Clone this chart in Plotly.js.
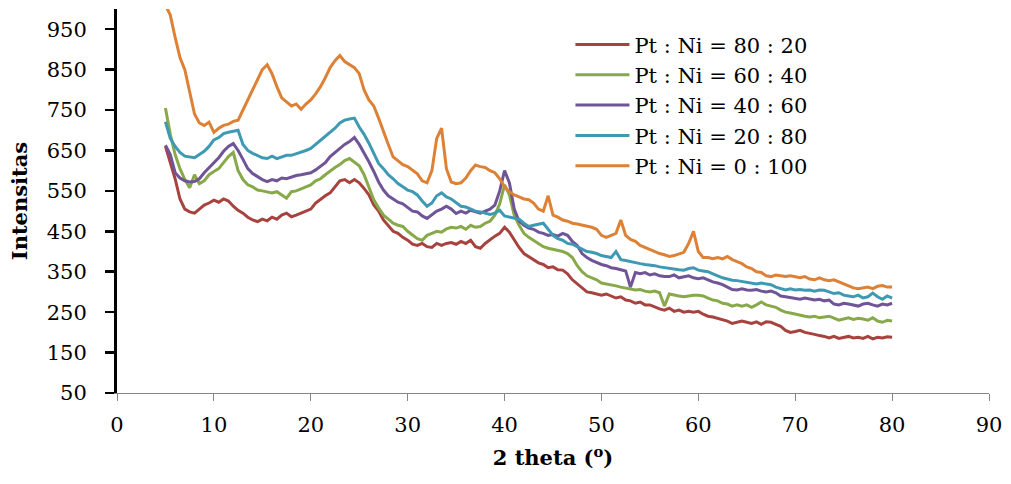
<!DOCTYPE html>
<html><head><meta charset="utf-8">
<script src="https://cdn.plot.ly/plotly-3.0.1.min.js"></script>
<style>html,body{margin:0;padding:0;background:#fff}#chart{width:1011px;height:484px}</style>
</head><body><div id="chart"></div>
<script>
// 2-theta sampling grid (degrees)
const twoTheta = [
5,5.5,6,6.5,7,7.5,8,8.5,9,9.5,
10,10.5,11,11.5,12,12.5,13,13.5,14,14.5,
15,15.5,16,16.5,17,17.5,18,18.5,19,19.5,
20,20.5,21,21.5,22,22.5,23,23.5,24,24.5,
25,25.5,26,26.5,27,27.5,28,28.5,29,29.5,
30,30.5,31,31.5,32,32.5,33,33.5,34,34.5,
35,35.5,36,36.5,37,37.5,38,38.5,39,39.5,
40,40.5,41,41.5,42,42.5,43,43.5,44,44.5,
45,45.5,46,46.5,47,47.5,48,48.5,49,49.5,
50,50.5,51,51.5,52,52.5,53,53.5,54,54.5,
55,55.5,56,56.5,57,57.5,58,58.5,59,59.5,
60,60.5,61,61.5,62,62.5,63,63.5,64,64.5,
65,65.5,66,66.5,67,67.5,68,68.5,69,69.5,
70,70.5,71,71.5,72,72.5,73,73.5,74,74.5,
75,75.5,76,76.5,77,77.5,78,78.5,79,79.5,
80];

const int80_20 = [
660,620,580,530,505,498,495,505,515,520,
527,522,530,525,512,502,495,485,478,474,
480,476,485,480,490,495,486,490,495,500,
505,520,530,538,545,560,575,578,570,578,
570,556,540,515,500,478,465,450,445,435,
428,418,415,420,412,410,420,415,420,422,
418,425,420,428,412,408,420,430,438,445,
460,448,428,410,395,388,380,372,368,360,
362,355,354,345,330,320,310,300,298,295,
292,295,290,285,288,280,278,272,275,268,
268,262,258,255,260,252,255,250,252,250,
252,245,240,238,235,232,228,222,225,228,
225,222,226,220,226,225,220,215,205,200,
202,205,200,198,195,192,190,186,190,185,
188,190,186,188,185,190,184,188,186,189,
188];

const int60_40 = [
755,690,640,605,578,558,590,568,575,590,
598,605,620,635,645,600,578,565,560,552,
550,548,545,548,540,532,548,550,555,560,
565,575,580,590,600,608,615,625,630,620,
612,590,560,528,508,490,480,470,465,462,
450,440,432,428,440,445,450,448,456,460,
458,462,455,465,460,462,470,475,490,518,
565,540,490,465,445,435,428,420,412,408,
405,402,400,395,385,365,350,340,335,330,
322,320,318,315,312,310,308,305,306,302,
300,302,298,265,295,292,290,288,290,292,
292,290,285,280,278,272,270,265,268,265,
268,262,268,275,268,265,262,255,250,248,
245,242,240,238,240,236,238,240,235,230,
233,236,232,235,233,230,236,228,225,230,
228];

const int40_60 = [
663,640,595,582,575,572,573,580,595,608,
620,632,648,660,667,650,628,605,593,585,
578,573,578,575,582,580,585,588,590,592,
595,602,610,620,635,645,655,665,672,682,
665,645,622,598,572,552,538,530,522,518,
510,500,498,488,482,492,500,505,512,505,
494,500,495,502,498,495,500,505,515,550,
600,570,505,475,465,458,455,448,445,440,
442,438,445,440,425,415,395,385,378,372,
368,365,360,358,355,352,312,348,345,348,
342,345,340,338,338,342,335,338,340,335,
333,335,330,325,322,318,312,306,305,308,
305,304,306,302,300,302,298,290,288,286,
285,282,285,282,280,282,278,280,270,268,
272,270,268,265,270,272,268,265,270,268,
272];

const int20_80 = [
721,680,660,645,636,634,632,640,648,660,
676,682,692,695,698,700,665,650,643,638,
632,630,636,630,634,638,638,642,645,650,
655,665,675,685,695,705,718,725,728,730,
708,690,668,642,618,605,590,580,568,560,
552,548,540,525,512,520,538,545,535,530,
520,512,510,505,500,498,495,492,495,502,
488,485,482,480,470,462,465,468,470,455,
440,432,428,420,418,412,405,400,398,395,
390,388,385,400,380,378,375,372,370,368,
367,365,362,360,358,356,355,354,358,360,
354,352,350,345,340,335,332,329,328,326,
325,322,320,322,320,318,312,308,305,308,
305,306,304,305,302,305,304,300,296,298,
292,290,288,292,285,288,297,288,282,290,
285];

const int0_100 = [
1010,985,930,880,850,795,740,718,712,720,
695,705,712,715,722,725,750,775,800,828,
850,862,840,808,780,770,760,765,752,765,
775,790,808,830,855,872,885,870,862,855,
840,800,775,760,730,700,665,634,625,615,
610,600,592,575,570,600,680,705,605,572,
568,570,582,600,614,610,608,600,595,580,
560,548,540,535,530,528,520,505,500,538,
490,485,478,475,470,468,465,462,460,455,
440,435,440,445,478,440,430,425,415,410,
405,400,395,392,388,390,395,398,420,450,
400,385,385,382,385,382,388,380,375,370,
362,358,350,348,340,338,342,340,338,340,
338,335,338,332,330,335,330,328,330,325,
320,315,310,308,310,312,308,314,316,312,
312];

const seriesNames = ['Pt : Ni = 80 : 20','Pt : Ni = 60 : 40','Pt : Ni = 40 : 60','Pt : Ni = 20 : 80','Pt : Ni = 0 : 100'];
const seriesValues = [int80_20, int60_40, int40_60, int20_80, int0_100];
const seriesColors = ['#A8423F','#88A94A','#6F5497','#3E99B3','#DD8137'];

const traces = seriesValues.map((vals, i) => ({
  type: 'scatter', mode: 'lines',
  x: twoTheta, y: vals, name: seriesNames[i],
  line: {color: seriesColors[i], width: 3}
}));

const layout = {
  width: 1011, height: 484,
  margin: {l: 117, r: 22, t: 9, b: 91},
  paper_bgcolor: '#fff', plot_bgcolor: '#fff',
  font: {family: 'DejaVu Serif', size: 21, color: '#000'},
  showlegend: true,
  legend: {x: 0.52, y: 0.96, xanchor: 'left', yanchor: 'top', bgcolor: 'rgba(0,0,0,0)',
           font: {family: 'DejaVu Serif', size: 21, color: '#000'}, itemwidth: 54},
  xaxis: {range: [0, 90], tick0: 0, dtick: 10, showline: true, linecolor: '#868686', linewidth: 1,
          ticks: 'outside', ticklen: 7, tickcolor: '#868686', tickwidth: 1,
          showgrid: false, zeroline: false, ticklabelstandoff: 6,
          title: {text: '<b>2 theta (<sup>o</sup>)</b>', standoff: 14, font: {family: 'DejaVu Serif', size: 21}}},
  yaxis: {range: [50, 1000], tick0: 50, dtick: 100, showline: true, linecolor: '#000', linewidth: 3,
          ticks: 'outside', ticklen: 9, tickcolor: '#000', tickwidth: 2.5,
          showgrid: false, zeroline: false, ticklabelstandoff: 14,
          title: {text: '<b>Intensitas</b>', standoff: 14, font: {family: 'DejaVu Serif', size: 21}}}
};

Plotly.newPlot('chart', traces, layout, {staticPlot: true, displayModeBar: false});
</script>
</body></html>
